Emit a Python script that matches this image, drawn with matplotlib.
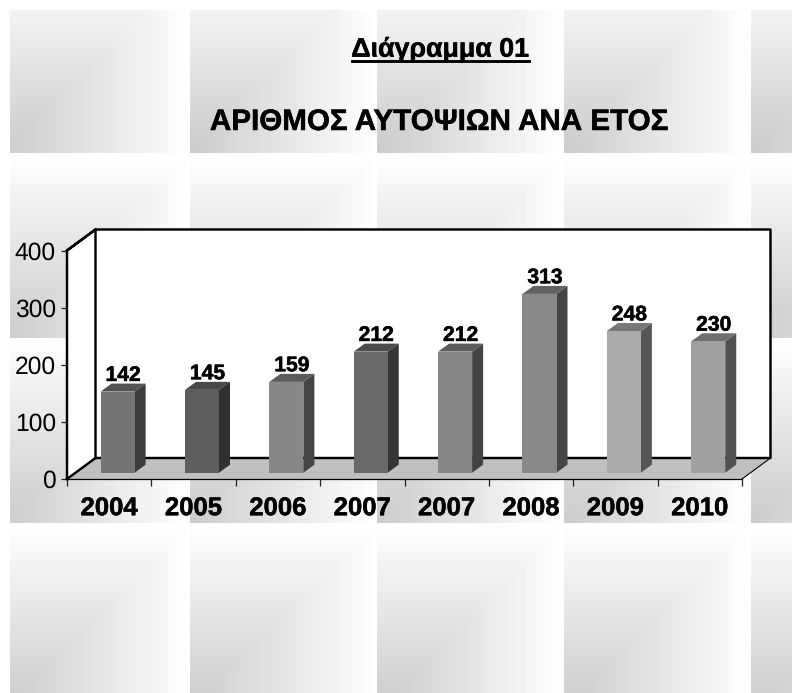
import numpy as np
import matplotlib
matplotlib.use("Agg")
import matplotlib.pyplot as plt
import matplotlib.patheffects as pe
from matplotlib.patches import Polygon
from matplotlib.lines import Line2D

plt.rcParams['font.family'] = ['Liberation Sans', 'DejaVu Sans']
plt.rcParams['text.hinting'] = 'none'

# ---- data ----
categories = ['2004', '2005', '2006', '2007', '2007', '2008', '2009', '2010']
values = [142, 145, 159, 212, 212, 313, 248, 230]
y_ticks = [0, 100, 200, 300, 400]
front_colors = ['#747474', '#5e5e5e', '#878787', '#696969', '#878787', '#898989', '#ababab', '#a0a0a0']
side_colors = ['#3b3b3b', '#303030', '#444444', '#353535', '#444444', '#454545', '#565656', '#515151']
top_colors = ['#525252', '#484848', '#5c5c5c', '#4c4c4c', '#5c5c5c', '#626262', '#777777', '#6f6f6f']
title_top = 'Διάγραμμα 01'
title_main = 'ΑΡΙΘΜΟΣ ΑΥΤΟΨΙΩΝ ΑΝΑ ΕΤΟΣ'

W, H = 792, 693
fig = plt.figure(figsize=(W / 100, H / 100), dpi=100, facecolor='white')
bolder = [pe.withStroke(linewidth=0.35, foreground='black')]

# ---- tiled background ----
bg = fig.add_axes([0, 0, 1, 1], zorder=0)
bg.set_xlim(0, W); bg.set_ylim(H, 0); bg.axis('off')
px, py = np.meshgrid(np.arange(W) + .5, np.arange(H) + .5)
u = ((px - 3) % 187) / 187
v = ((py + 32) % 185) / 185
img = 255 - 52 * np.minimum(1 - u, v)
img[:10, :] = 255
img[:, :10] = 255
bg.imshow(img, cmap='gray', vmin=0, vmax=255, extent=(0, W, H, 0),
          interpolation='nearest', aspect='auto')

# ---- chart axes (front plane of the 3D box) ----
L, R, T, B = 67, 742, 250.5, 479
ax = fig.add_axes([L / W, 1 - B / H, (R - L) / W, (B - T) / H], zorder=1)
ax.set_xlim(0, len(categories)); ax.set_ylim(0, 400)
ax.patch.set_visible(False)
sx = (R - L) / len(categories)   # px per category
sy = (B - T) / 400               # px per unit
wall_dx, wall_dy = 28.5 / sx, 21 / sy
bar_dx, bar_dy = 11 / sx, 8 / sy
bar_off_y = 6.3 / sy
bar_pos = np.arange(len(categories)) + 0.6
bar_w = 0.403

# walls & floor
ax.add_patch(Polygon([(0, 0), (0, 400), (wall_dx, 400 + wall_dy), (wall_dx, wall_dy)],
                     fc='white', ec='none', clip_on=False, zorder=1))
ax.add_patch(Polygon([(wall_dx, wall_dy), (wall_dx, 400 + wall_dy), (8 + wall_dx, 400 + wall_dy), (8 + wall_dx, wall_dy)],
                     fc='white', ec='none', clip_on=False, zorder=1))
ax.add_patch(Polygon([(0, 0), (8, 0), (8 + wall_dx, wall_dy), (wall_dx, wall_dy)],
                     fc='#c0c0c0', ec='none', clip_on=False, zorder=1))
heavy = dict(color='black', lw=1.75, clip_on=False, zorder=2, solid_capstyle='projecting')
ax.plot([0, 0, wall_dx, 8 + wall_dx, 8 + wall_dx, wall_dx, wall_dx, 0],
        [0, 400, 400 + wall_dy, 400 + wall_dy, wall_dy, wall_dy, 400 + wall_dy, 400], **heavy)
ax.plot([0, wall_dx], [0, wall_dy], **heavy)
ax.plot([8, 8 + wall_dx], [0, wall_dy], color='black', lw=0.8, clip_on=False, zorder=2)

# bars
ax.bar(bar_pos, values, bar_w, bottom=bar_off_y, color=front_colors, zorder=4, clip_on=False)
for x, val, sc, tc in zip(bar_pos, values, side_colors, top_colors):
    x0, x1 = x - bar_w / 2, x + bar_w / 2
    y0, y1 = bar_off_y, bar_off_y + val
    ax.add_patch(Polygon([(x1, y0), (x1, y1), (x1 + bar_dx, y1 + bar_dy), (x1 + bar_dx, y0 + bar_dy)],
                         fc=sc, ec='none', zorder=3, clip_on=False))
    ax.add_patch(Polygon([(x0, y1), (x1, y1), (x1 + bar_dx, y1 + bar_dy), (x0 + bar_dx, y1 + bar_dy)],
                         fc=tc, ec='none', zorder=3, clip_on=False))
    ax.annotate(str(val), (x + bar_dx / 2, y1 + bar_dy), xytext=(0, 1.9), textcoords='offset points',
                ha='center', va='baseline', fontsize=15.2, fontweight='bold', color='black', zorder=5,
                path_effects=bolder)

# axes furniture
for s in ('top', 'right', 'left'):
    ax.spines[s].set_visible(False)
ax.spines['bottom'].set_linewidth(0.9)
ax.spines['bottom'].set_zorder(6)
ax.set_yticks(y_ticks)
ax.set_yticklabels([str(t) for t in y_ticks], fontsize=17.7)
ax.tick_params(axis='y', length=4.5, width=0.9, pad=3.5, color='#222222')
ax.set_xticks(np.arange(len(categories) + 1))
ax.set_xticklabels([])
ax.tick_params(axis='x', which='major', length=5, width=0.9, color='#222222')
ax.set_xticks(np.arange(len(categories)) + 0.5, minor=True)
ax.set_xticklabels(categories, minor=True, fontsize=18.5, fontweight='bold', path_effects=bolder)
ax.tick_params(axis='x', which='minor', length=0, pad=12.5)

# titles
fig.text(440 / W, 1 - 56.7 / H, title_top, ha='center', va='baseline', fontsize=19.3, fontweight='bold',
         color='black', path_effects=bolder)
fig.add_artist(Line2D([352 / W, 529 / W], [1 - 60.5 / H] * 2, color='black', lw=2.1))
fig.text(439.5 / W, 1 - 130 / H, title_main, ha='center', va='baseline', fontsize=21.3, fontweight='bold',
         color='black', path_effects=bolder)

fig.savefig('out.png', dpi=100)
